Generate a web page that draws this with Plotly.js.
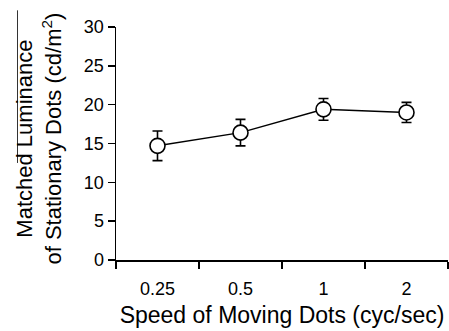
<!DOCTYPE html>
<html>
<head>
<meta charset="utf-8">
<script src="https://cdn.plot.ly/plotly-3.0.1.min.js"></script>
<style>html,body{margin:0;padding:0;background:#fff;}#chart{width:449px;height:331px;}</style>
</head>
<body>
<div id="chart"></div>
<script>
const speeds = ["0.25", "0.5", "1", "2"];
const luminance = [14.7, 16.4, 19.4, 19.0];
const errors = [1.9, 1.7, 1.4, 1.3];
const yTicks = [0, 5, 10, 15, 20, 25, 30];

const trace = {
  type: "scatter",
  mode: "lines+markers",
  x: speeds,
  y: luminance,
  error_y: {type: "data", array: errors, visible: true, color: "#000", thickness: 1.6, width: 5},
  line: {color: "#000", width: 1.5},
  marker: {symbol: "circle", size: 15, color: "#fff", line: {color: "#000", width: 1.6}},
  cliponaxis: false,
  showlegend: false
};

const layout = {
  width: 449, height: 331,
  margin: {l: 116, r: 1, t: 27, b: 71},
  paper_bgcolor: "#fff", plot_bgcolor: "#fff",
  font: {family: "Liberation Sans, Arial, sans-serif", color: "#000"},
  xaxis: {
    type: "category",
    range: [-0.5, 3.5],
    tickson: "boundaries",
    ticks: "outside", ticklen: 7, tickwidth: 1.5, tickcolor: "#000",
    ticklabelstandoff: 12,
    showline: true, linecolor: "#000", linewidth: 1.5,
    showgrid: false, zeroline: false,
    tickfont: {size: 18},
    title: {text: "Speed of Moving Dots (cyc/sec)", font: {size: 23}, standoff: 9}
  },
  yaxis: {
    range: [0, 30],
    tickvals: yTicks,
    ticktext: yTicks.map(String),
    ticks: "outside", ticklen: 7, tickwidth: 1.5, tickcolor: "#000",
    showline: true, linecolor: "#000", linewidth: 1.5,
    showgrid: false, zeroline: false,
    tickfont: {size: 18}
  },
  annotations: [{
    xref: "paper", yref: "paper",
    x: (39 - 116) / 332, y: (260.3 - 138.5) / 233.6,
    xanchor: "center", yanchor: "middle",
    textangle: -90, align: "center",
    showarrow: false,
    font: {size: 22},
    text: "Matched Luminance<br>of Stationary Dots (cd/m<sup>2</sup>)"
  }],
  shapes: [{
    type: "line", xref: "paper", yref: "paper",
    x0: (17.5 - 116) / 332, x1: (17.5 - 116) / 332,
    y0: (260.3 - 10) / 233.6, y1: (260.3 - 163) / 233.6,
    line: {color: "#333", width: 1}
  }]
};

Plotly.newPlot("chart", [trace], layout, {displayModeBar: false, staticPlot: true});
</script>
</body>
</html>
